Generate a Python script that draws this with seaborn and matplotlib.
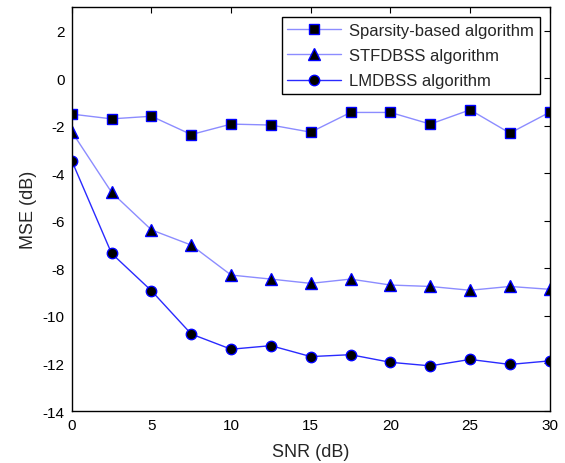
import numpy as np
import pandas as pd
import seaborn as sns
import matplotlib
matplotlib.use('Agg')
import matplotlib.pyplot as plt

# SNR values (dB)
snr = [0, 2.5, 5, 7.5, 10, 12.5, 15, 17.5, 20, 22.5, 25, 27.5, 30]

# MSE (dB) for each algorithm
mse_sparsity = [-1.51, -1.71, -1.60, -2.37, -1.93, -1.97, -2.27, -1.44, -1.44, -1.93, -1.33, -2.31, -1.43]
mse_stfdbss = [-2.25, -4.80, -6.38, -7.02, -8.28, -8.45, -8.63, -8.45, -8.70, -8.76, -8.92, -8.76, -8.88]
mse_lmdbss = [-3.47, -7.37, -8.94, -10.76, -11.40, -11.25, -11.71, -11.63, -11.95, -12.10, -11.83, -12.04, -11.89]

labels = ['Sparsity-based algorithm', 'STFDBSS algorithm', 'LMDBSS algorithm']

df = pd.DataFrame({
    'SNR': snr * 3,
    'MSE': mse_sparsity + mse_stfdbss + mse_lmdbss,
    'Algorithm': [labels[0]] * len(snr) + [labels[1]] * len(snr) + [labels[2]] * len(snr),
})

sns.set_style('white')
plt.rcParams['font.family'] = ['Liberation Sans', 'DejaVu Sans']
plt.rcParams['axes.unicode_minus'] = False

fig = plt.figure(figsize=(5.65, 4.64), dpi=100)
ax = fig.add_axes([0.127, 0.112, 0.846, 0.871])

styles = {
    labels[0]: dict(marker='s', color='#8c8cff', lw=1.0, ms=7.5),
    labels[1]: dict(marker='^', color='#8c8cff', lw=1.0, ms=8.5),
    labels[2]: dict(marker='o', color='#2a2aff', lw=1.0, ms=7.5),
}

for name in labels:
    st = styles[name]
    sub = df[df['Algorithm'] == name]
    sns.lineplot(data=sub, x='SNR', y='MSE', ax=ax, label=name,
                 color=st['color'], linewidth=st['lw'], marker=st['marker'],
                 markersize=st['ms'], markerfacecolor='black',
                 markeredgecolor='#0000ff', markeredgewidth=1.0)

ax.set_xlim(0, 30)
ax.set_ylim(-14, 3)
ax.set_xticks(np.arange(0, 31, 5))
ax.set_yticks(np.arange(-14, 3, 2))
ax.tick_params(direction='in', length=4, width=0.8, top=True, right=True,
               labelsize=11, colors='black', pad=5)
for sp in ax.spines.values():
    sp.set_visible(True)
    sp.set_color('black')
    sp.set_linewidth(1.0)

ax.set_xlabel('SNR (dB)', fontsize=13, labelpad=8)
ax.set_ylabel('MSE (dB)', fontsize=13, labelpad=4)

leg = ax.legend(loc='upper right', fontsize=12, frameon=True, fancybox=False,
                edgecolor='black', framealpha=1, borderpad=0.35, labelspacing=0.62,
                handlelength=3.2, handletextpad=0.5, borderaxespad=0.6)
leg.get_frame().set_linewidth(1.0)

fig.savefig('out.png', dpi=100)
